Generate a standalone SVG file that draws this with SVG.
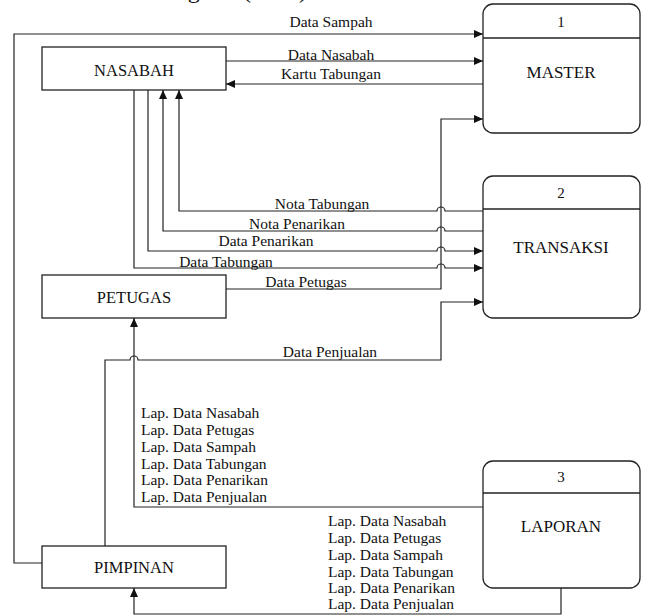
<svg xmlns="http://www.w3.org/2000/svg" width="649" height="615" viewBox="0 0 649 615" font-family="'Liberation Serif','DejaVu Serif',serif">
<style>
text{font-family:"Liberation Serif","DejaVu Serif","Times New Roman",serif;fill:#111}
.ent{fill:#fff;stroke:#222;stroke-width:1.3}
.proc{fill:#fff;stroke:#222;stroke-width:1.3}
.div{stroke:#222;stroke-width:1.3}
.bl{font-size:16.5px;text-anchor:middle}
.pl{font-size:17px;text-anchor:middle}
.num{font-size:15px;text-anchor:middle}
.fl{font-size:15.5px;text-anchor:middle}
.ll{font-size:15.5px}
.c{fill:none;stroke:#222;stroke-width:1.2}
.a{marker-end:url(#arr)}
</style>
<defs>
<marker id="arr" markerUnits="userSpaceOnUse" markerWidth="10" markerHeight="8" refX="9" refY="4" orient="auto">
<path d="M0,0 L9,4 L0,8 Z" fill="#111"/>
</marker>
</defs>
<text x="307" y="-2" style="font-size:24px;text-anchor:end">Diagram (DFD)</text>
<g id="connectors">
<path class="c a" d="M42 563 L14 563 L14 34 L483 34"/>
<path class="c a" d="M226 61 L483 61"/>
<path class="c a" d="M483 84 L226 84"/>
<path class="c a" d="M483 211 L445 211 A4 4 0 0 0 437 211 L179 211 L179 90"/>
<path class="c a" d="M483 231 L445 231 A4 4 0 0 0 437 231 L163 231 L163 90"/>
<path class="c a" d="M148 90 L148 251 L437 251 A4 4 0 0 1 445 251 L483 251"/>
<path class="c a" d="M134 90 L134 268 L437 268 A4 4 0 0 1 445 268 L483 268"/>
<path class="c a" d="M226 289 L441 289 L441 119 L483 119"/>
<path class="c a" d="M105 546 L105 360 L130 360 A4 4 0 0 1 138 360 L441 360 L441 302 L483 302"/>
<path class="c a" d="M483 507 L134 507 L134 318"/>
<path class="c a" d="M561 588 L561 614 L134 614 L134 588"/>
<text class="fl" x="331" y="27">Data Sampah</text>
<text class="fl" x="331" y="60">Data Nasabah</text>
<text class="fl" x="331" y="79">Kartu Tabungan</text>
<text class="fl" x="322" y="209">Nota Tabungan</text>
<text class="fl" x="297" y="229">Nota Penarikan</text>
<text class="fl" x="266" y="246">Data Penarikan</text>
<text class="fl" x="226" y="267">Data Tabungan</text>
<text class="fl" x="306" y="287">Data Petugas</text>
<text class="fl" x="330" y="357">Data Penjualan</text>
<text class="ll" x="141" y="418">Lap. Data Nasabah</text>
<text class="ll" x="141" y="435">Lap. Data Petugas</text>
<text class="ll" x="141" y="452">Lap. Data Sampah</text>
<text class="ll" x="141" y="469">Lap. Data Tabungan</text>
<text class="ll" x="141" y="485">Lap. Data Penarikan</text>
<text class="ll" x="141" y="502">Lap. Data Penjualan</text>
<text class="ll" x="328" y="526">Lap. Data Nasabah</text>
<text class="ll" x="328" y="543">Lap. Data Petugas</text>
<text class="ll" x="328" y="560">Lap. Data Sampah</text>
<text class="ll" x="328" y="577">Lap. Data Tabungan</text>
<text class="ll" x="328" y="593">Lap. Data Penarikan</text>
<text class="ll" x="328" y="609">Lap. Data Penjualan</text>
</g>
<g id="nasabah">
<rect class="ent" x="42" y="47" width="184" height="43"/>
<text class="bl" x="134" y="76">NASABAH</text>
</g>
<g id="petugas">
<rect class="ent" x="42" y="275" width="184" height="43"/>
<text class="bl" x="134" y="303">PETUGAS</text>
</g>
<g id="pimpinan">
<rect class="ent" x="42" y="546" width="184" height="42"/>
<text class="bl" x="134" y="573">PIMPINAN</text>
</g>
<g id="master">
<rect class="proc" x="483" y="4" width="157" height="129" rx="10"/>
<line class="div" x1="483" y1="38" x2="640" y2="38"/>
<text class="num" x="561" y="27">1</text>
<text class="pl" x="561" y="78">MASTER</text>
</g>
<g id="transaksi">
<rect class="proc" x="483" y="176" width="157" height="142" rx="10"/>
<line class="div" x1="483" y1="209" x2="640" y2="209"/>
<text class="num" x="561" y="198">2</text>
<text class="pl" x="561" y="253">TRANSAKSI</text>
</g>
<g id="laporan">
<rect class="proc" x="483" y="461" width="157" height="127" rx="10"/>
<line class="div" x1="483" y1="493" x2="640" y2="493"/>
<text class="num" x="561" y="482">3</text>
<text class="pl" x="561" y="532">LAPORAN</text>
</g>
</svg>
